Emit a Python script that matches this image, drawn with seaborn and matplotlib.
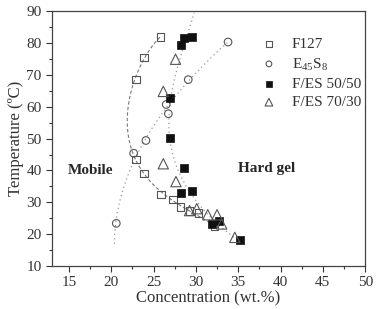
import numpy as np
import pandas as pd
import matplotlib
matplotlib.use("Agg")
import matplotlib.pyplot as plt
import seaborn as sns

# --- data ---
f127_conc = [25.8, 23.85, 22.9, 22.9, 23.9, 25.9, 27.3, 28.2, 29.25, 30.3, 32.2]
f127_temp = [81.9, 75.4, 68.6, 43.4, 39.0, 32.5, 30.9, 28.5, 27.2, 26.6, 22.4]

es_conc = [20.6, 22.65, 24.1, 26.75, 26.5, 29.1, 33.8]
es_temp = [23.4, 45.4, 49.4, 57.8, 60.7, 68.5, 80.3]

fes5050_conc = [29.6, 28.6, 28.2, 26.9, 26.9, 28.65, 29.6, 28.2, 32.7, 31.9, 35.2]
fes5050_temp = [81.9, 81.7, 79.5, 62.7, 50.2, 40.8, 33.4, 33.0, 24.1, 23.2, 18.2]

fes7030_conc = [27.6, 26.15, 26.15, 27.65, 29.25, 30.1, 31.4, 32.5, 33.05, 34.6]
fes7030_temp = [74.9, 64.8, 42.1, 36.5, 27.4, 28.0, 26.1, 26.1, 23.2, 19.0]

labels = ["F127", r"E$_{\mathrm{45}}$S$_{\mathrm{8}}$", "F/ES 50/50", "F/ES 70/30"]

sns.set_style("ticks")
plt.rcParams["font.family"] = ["Liberation Serif", "DejaVu Serif"]
plt.rcParams["mathtext.fontset"] = "custom"
plt.rcParams["mathtext.rm"] = "Liberation Serif"

fig = plt.figure(figsize=(3.82, 3.09), dpi=100)
ax = fig.add_axes([0.136, 0.139, 0.820, 0.825])


# fitted guide curves (temperature as the free variable)
def guide(conc, temp, deg, tmin, tmax):
    p = np.polyfit(temp, conc, deg)
    t = np.linspace(tmin, tmax, 200)
    return pd.DataFrame({"conc": np.polyval(p, t), "temp": t})


# parametric fit along the path (for the C-shaped F127 curve)
def guide_path(conc, temp, deg):
    c = np.asarray(conc)
    t = np.asarray(temp)
    d = np.hypot(np.diff(c) * 8.4, np.diff(t) * 3.2)
    s = np.concatenate([[0], np.cumsum(d)])
    s = s / s[-1]
    pc = np.polyfit(s, c, deg)
    pt = np.polyfit(s, t, deg)
    ss = np.linspace(0, 1, 200)
    return pd.DataFrame({"conc": np.polyval(pc, ss), "temp": np.polyval(pt, ss)})


g1 = guide_path(f127_conc, f127_temp, 4)
g2 = guide(es_conc, es_temp, 2, 17, max(es_temp))
g3 = guide(fes5050_conc, fes5050_temp, 3, min(fes5050_temp), 89.5)
sns.lineplot(data=g1, x="conc", y="temp", sort=False, estimator=None, ax=ax,
             color="#777777", lw=0.8, linestyle=(0, (3, 2)))
sns.lineplot(data=g2, x="conc", y="temp", sort=False, estimator=None, ax=ax,
             color="#999999", lw=0.9, linestyle=(0, (1, 2.5)))
sns.lineplot(data=g3, x="conc", y="temp", sort=False, estimator=None, ax=ax,
             color="#999999", lw=0.9, linestyle=(0, (1, 2.5)))

sns.scatterplot(x=f127_conc, y=f127_temp, marker="s", s=30, facecolor="none",
                edgecolor="#555555", linewidth=0.8, ax=ax, label=labels[0], zorder=3)
sns.scatterplot(x=es_conc, y=es_temp, marker="o", s=30, facecolor="none",
                edgecolor="#555555", linewidth=0.8, ax=ax, label=labels[1], zorder=3)
sns.scatterplot(x=fes5050_conc, y=fes5050_temp, marker="s", s=26, color="#111111",
                edgecolor="#111111", linewidth=0.5, ax=ax, label=labels[2], zorder=3)
sns.scatterplot(x=fes7030_conc, y=fes7030_temp, marker="^", s=55, facecolor="none",
                edgecolor="#555555", linewidth=0.8, ax=ax, label=labels[3], zorder=3)

ax.text(17.6, 40, "Mobile", fontsize=11, fontweight="bold", ha="center", va="center")
ax.text(38.3, 40.5, "Hard gel", fontsize=11, fontweight="bold", ha="center", va="center")

ax.set_xlim(13, 50)
ax.set_ylim(10, 90)
ax.set_xticks(np.arange(15, 51, 5))
ax.set_yticks(np.arange(10, 91, 10))
ax.set_xticks(np.arange(17.5, 50, 5), minor=True)
ax.set_yticks(np.arange(15, 90, 10), minor=True)
ax.tick_params(which="major", direction="out", length=4, width=0.8, labelsize=11,
               colors="#333333", labelcolor="#333333")
ax.tick_params(which="minor", direction="out", length=2.5, width=0.8, colors="#333333")
for sp in ax.spines.values():
    sp.set_visible(True)
    sp.set_color("#444444")
    sp.set_linewidth(0.9)

ax.set_xlabel("Concentration (wt.%)", fontsize=12, color="#333333", labelpad=1)
ax.set_ylabel("Temperature (\u00baC)", fontsize=12, color="#333333", labelpad=2)

leg = ax.legend(loc="upper left", bbox_to_anchor=(0.6, 0.95), frameon=False,
                fontsize=11, handletextpad=0.5, labelspacing=0.3, markerscale=0.75)
for t in leg.get_texts():
    t.set_color("#333333")

fig.savefig("out.png", dpi=100)
